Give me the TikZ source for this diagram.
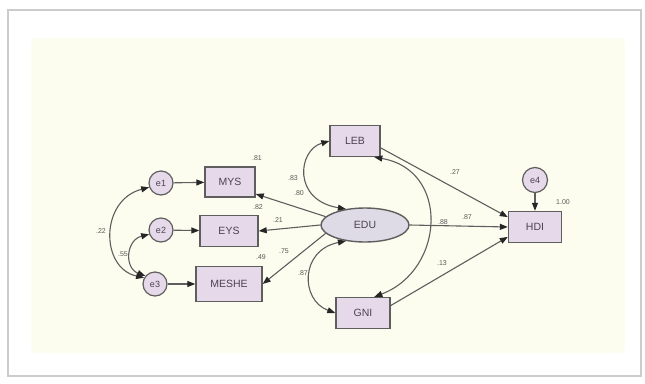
\documentclass[tikz,border=0pt]{standalone}
\usepackage{fontspec}
\setmainfont{Liberation Sans}
\usetikzlibrary{arrows.meta,shapes.geometric}
\definecolor{cream}{HTML}{FCFCEF}
\definecolor{boxfill}{HTML}{E6DAEA}
\definecolor{elfill}{HTML}{DEDAE6}
\definecolor{edge}{HTML}{5E5E5E}
\definecolor{txt}{HTML}{4A4252}
\definecolor{lbl}{HTML}{5A5A5A}
\tikzset{
  obsbox/.style={draw=edge, line width=1.4pt, fill=boxfill, inner sep=0pt, text=txt, font=\fontsize{10.5}{12}\selectfont},
  errc/.style={circle, draw=edge, line width=1.2pt, fill=boxfill, minimum size=24pt, inner sep=0pt, text=txt, font=\fontsize{9}{10}\selectfont},
  latent/.style={ellipse, draw=edge, line width=1.4pt, fill=elfill, minimum width=88pt, minimum height=34pt, inner sep=0pt, text=txt, font=\fontsize{10.5}{12}\selectfont},
  tip/.tip={Triangle[length=8pt,width=6pt,fill=black!85,color=black!85]},
  path/.style={draw=edge, line width=1.1pt, -tip},
  cov/.style={draw=edge, line width=1.1pt, tip-tip},
  est/.style={text=lbl, font=\fontsize{7}{8}\selectfont, inner sep=0pt}
}
\begin{document}
\begin{tikzpicture}[x=1pt,y=-1pt]
\useasboundingbox (0,0) rectangle (645,383);
\fill[white] (0,0) rectangle (645,383);
\draw[black!20, line width=1.5pt] (8,10) rectangle (641,376);
\fill[cream, rounded corners=6pt] (31,38) rectangle (625,353);

% nodes
\node[errc] (e1) at (161,183) {e1};
\node[errc] (e2) at (161,230) {e2};
\node[errc] (e3) at (155,284) {e3};
\node[errc, minimum size=25pt] (e4) at (535,180) {e4};
\node[obsbox, minimum width=50pt, minimum height=30pt] (MYS) at (230,182) {MYS};
\node[obsbox, minimum width=58pt, minimum height=31pt] (EYS) at (229,231) {EYS};
\node[obsbox, minimum width=66pt, minimum height=35pt] (MESHE) at (229,284) {MESHE};
\node[obsbox, minimum width=50pt, minimum height=31pt] (LEB) at (355,141) {LEB};
\node[obsbox, minimum width=54pt, minimum height=31pt] (GNI) at (363,313) {GNI};
\node[obsbox, minimum width=53pt, minimum height=31pt] (HDI) at (535,227) {HDI};
\node[latent] (EDU) at (365,225) {EDU};

% error paths
\draw[path] (e1) -- (MYS);
\draw[path] (e2) -- (EYS);
\draw[path] (e3) -- (MESHE);
\draw[path] (e4) -- (HDI);

% loadings
\draw[path] (EDU.168) -- (MYS.-25);
\draw[path] (EDU.west) -- (EYS.east);
\draw[path] (EDU.192) -- (MESHE.east);

% structural paths
\draw[path] (LEB.-15) -- (HDI.160);
\draw[path] (EDU.east) -- (HDI.west);
\draw[path] (GNI.15) -- (HDI.200);

% covariances
\draw[cov] (e1.200) .. controls (100,200) and (100,268) .. (e3.150);
\draw[cov] (e2.200) .. controls (126,240) and (124,268) .. (e3.140);
\draw[cov] (LEB.west) .. controls (298,150) and (292,200) .. (EDU.140);
\draw[cov] (EDU.220) .. controls (300,250) and (300,300) .. (GNI.west);
\draw[cov] (LEB.-40) .. controls (450,170) and (445,270) .. (GNI.55);

% estimates
\node[est] (l81) at (257,158) {.81};
\node[est] (l82) at (258,207) {.82};
\node[est] (l49) at (261,257) {.49};
\node[est] (l21) at (278,220) {.21};
\node[est] (l75) at (284,251) {.75};
\node[est] (l22) at (101,231) {.22};
\node[est] (l55) at (123,254) {.55};
\node[est] (l83) at (293,178) {.83};
\node[est] (l80) at (299,193) {.80};
\node[est] (l87a) at (303,273) {.87};
\node[est] (l27) at (455,172) {.27};
\node[est] (l88) at (443,222) {.88};
\node[est] (l87b) at (467,217) {.87};
\node[est] (l13) at (442,263) {.13};
\node[est] (l100) at (563,202) {1.00};
\end{tikzpicture}
\end{document}
